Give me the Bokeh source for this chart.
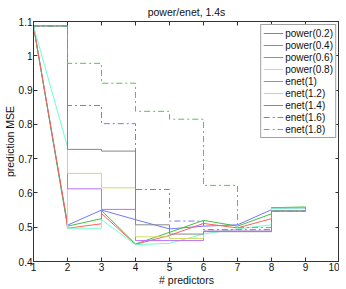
from bokeh.plotting import figure
from bokeh.models import FixedTicker, CustomJSTickFormatter, LinearAxis, Legend, LegendItem, Range1d
from bokeh.embed import file_html
from bokeh.resources import INLINE

# ---- data ----
x_ticks = [1, 2, 3, 4, 5, 6, 7, 8, 9, 10]
y_ticks = [0.4, 0.5, 0.6, 0.7, 0.8, 0.9, 1.0, 1.1]

# power paths (repeated x where the path jumps)
p02_x = [1, 2, 3, 4, 5, 6, 7, 8, 8, 9]
p02_y = [1.087, 0.506, 0.550, 0.522, 0.495, 0.503, 0.507, 0.551, 0.556, 0.557]
p04_x = [1, 2, 3, 3, 4, 5, 6, 7, 8, 8, 9]
p04_y = [1.087, 0.503, 0.525, 0.549, 0.451, 0.485, 0.520, 0.503, 0.539, 0.557, 0.559]
p06_x = [1, 1.95, 2, 3, 3, 4, 5, 6, 7, 8, 8, 9]
p06_y = [1.087, 0.540, 0.497, 0.510, 0.540, 0.450, 0.476, 0.511, 0.498, 0.525, 0.556, 0.557]
p08_x = [1, 2, 2, 3, 3, 4, 5, 6, 7, 8, 8, 9]
p08_y = [1.087, 0.734, 0.497, 0.497, 0.522, 0.449, 0.453, 0.480, 0.495, 0.507, 0.555, 0.556]

# enet stairs (value held from x_i to x_i+1)
enet_x = [1, 2, 3, 4, 5, 6, 7, 8, 9]
e10_y = [1.087, 0.612, 0.552, 0.461, 0.461, 0.489, 0.489, 0.548, 0.558]
e12_y = [1.087, 0.657, 0.615, 0.472, 0.467, 0.488, 0.488, 0.547, 0.558]
e14_y = [1.087, 0.727, 0.722, 0.507, 0.480, 0.487, 0.487, 0.547, 0.558]
e16_y = [1.087, 0.855, 0.802, 0.610, 0.518, 0.493, 0.493, 0.547, 0.558]
e18_y = [1.087, 0.978, 0.920, 0.838, 0.815, 0.622, 0.499, 0.547, 0.558]

labels = ["power(0.2)", "power(0.4)", "power(0.6)", "power(0.8)",
          "enet(1)", "enet(1.2)", "enet(1.4)", "enet(1.6)", "enet(1.8)"]
colors = ["#6f78ff", "#40c040", "#ff5f5f", "#70ffcc",
          "#b870ff", "#d4dc60", "#888888", "#7078ff", "#50c850"]

FONT = "Liberation Sans"

p = figure(frame_width=306, frame_height=240, output_backend="svg", toolbar_location=None,
           x_range=Range1d(1, 10), y_range=Range1d(0.4, 1.1),
           title="power/enet, 1.4s", min_border_left=0, min_border_right=0,
           min_border_top=0, min_border_bottom=0)
p.title.align = "center"
p.title.text_font = FONT
p.title.text_font_size = "10.5px"
p.title.text_font_style = "normal"
p.title.text_color = "#111111"
p.title.standoff = 7
p.title.offset = 0

p.xgrid.visible = False
p.ygrid.visible = False
p.outline_line_color = "#333333"
p.background_fill_color = "white"

fmt = CustomJSTickFormatter(code="var s = tick.toFixed(1); return s.endsWith('.0') ? s.slice(0, -2) : s;")

for ax in (p.xaxis[0], p.yaxis[0]):
    ax.major_tick_in = 4
    ax.major_tick_out = 0
    ax.minor_tick_in = 0
    ax.minor_tick_out = 0
    ax.axis_line_color = "#333333"
    ax.major_tick_line_color = "#333333"
    ax.major_label_text_font = FONT
    ax.major_label_text_font_size = "10px"
    ax.major_label_text_color = "#111111"
    ax.axis_label_text_font = FONT
    ax.axis_label_text_font_size = "10.5px"
    ax.axis_label_text_font_style = "normal"
    ax.axis_label_text_color = "#111111"
    ax.major_label_standoff = 1
    ax.axis_label_standoff = 0

p.xaxis.ticker = FixedTicker(ticks=x_ticks)
p.yaxis.ticker = FixedTicker(ticks=y_ticks)
p.xaxis.formatter = fmt
p.yaxis.formatter = fmt
p.xaxis.axis_label = "# predictors"
p.yaxis.axis_label = "prediction MSE"

# box ticks on top and right
for loc, tk in (("right", y_ticks), ("above", x_ticks)):
    ax = LinearAxis(ticker=FixedTicker(ticks=tk),
                    formatter=CustomJSTickFormatter(code="return '';"))
    ax.major_tick_in = 4
    ax.major_tick_out = 0
    ax.minor_tick_in = 0
    ax.minor_tick_out = 0
    ax.major_label_text_font_size = "0px"
    ax.major_label_standoff = 0
    ax.axis_line_color = "#333333"
    ax.major_tick_line_color = "#333333"
    p.add_layout(ax, loc)

renderers = []
for xs, ys, c in ((p02_x, p02_y, colors[0]), (p04_x, p04_y, colors[1]),
                  (p06_x, p06_y, colors[2]), (p08_x, p08_y, colors[3])):
    renderers.append(p.line(xs, ys, line_color=c, line_width=1))

for ys, c, dash in ((e10_y, colors[4], "solid"), (e12_y, colors[5], "solid"),
                    (e14_y, colors[6], "solid"), (e16_y, colors[7], "6 3 2 3"),
                    (e18_y, colors[8], "6 3 2 3")):
    renderers.append(p.step(enet_x, ys, mode="after", line_color=c, line_width=1,
                            line_dash=dash))

legend = Legend(items=[LegendItem(label=l, renderers=[r]) for l, r in zip(labels, renderers)],
                location="top_right")
legend.label_text_font = FONT
legend.label_text_font_size = "10px"
legend.label_text_color = "#111111"
legend.label_height = 12
legend.glyph_height = 12
legend.glyph_width = 20
legend.label_standoff = 2
legend.spacing = 0
legend.padding = 2
legend.margin = 3
legend.border_line_color = "#444444"
legend.border_line_width = 1.5
legend.background_fill_color = "white"
legend.background_fill_alpha = 1
p.add_layout(legend, "center")

open("out.html", "w").write(file_html(p, INLINE))
